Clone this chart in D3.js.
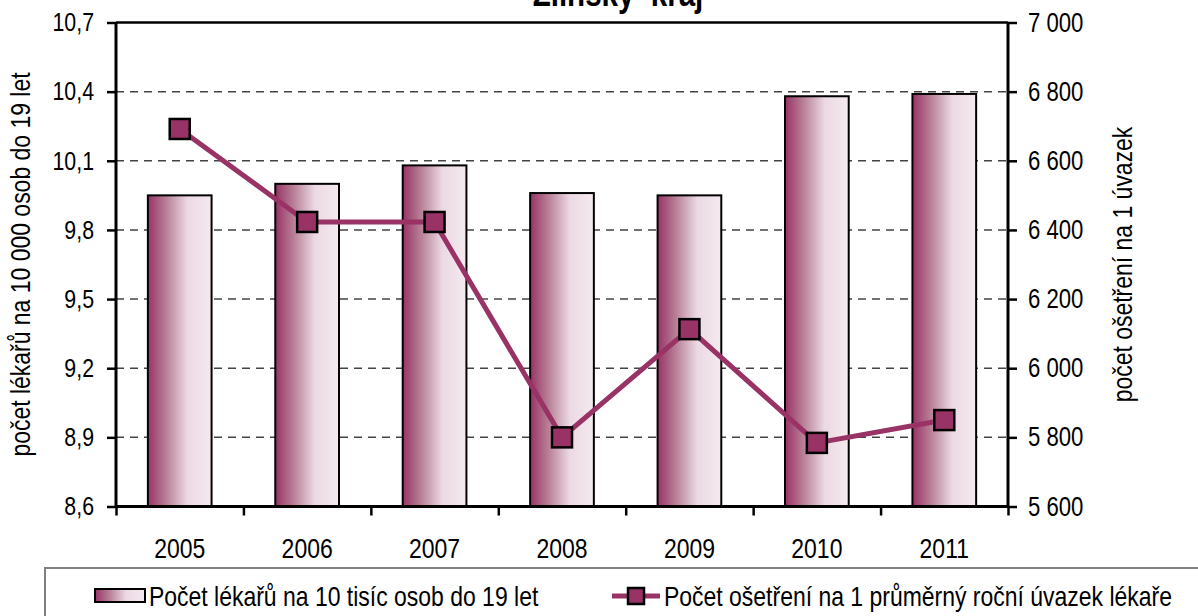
<!DOCTYPE html>
<html>
<head>
<meta charset="utf-8">
<script src="https://cdn.jsdelivr.net/npm/d3@7"></script>
<style>
  body { margin: 0; background: #fff; }
  text { font-family: "Liberation Sans", Arial, sans-serif; }
</style>
</head>
<body>
<script>
    // data
    const years = ["2005", "2006", "2007", "2008", "2009", "2010", "2011"];
    const doctors = [9.95, 10.0, 10.08, 9.96, 9.95, 10.38, 10.39];
    const treatments = [6692, 6423, 6423, 5800, 6113, 5784, 5850];
    const leftTicks = [8.6, 8.9, 9.2, 9.5, 9.8, 10.1, 10.4, 10.7];
    const rightTicks = [5600, 5800, 6000, 6200, 6400, 6600, 6800, 7000];
    const title = "Zlínský  kraj";
    const leftLabel = "počet lékařů na 10 000 osob do 19 let";
    const rightLabel = "počet ošetření na 1 úvazek";
    const legendBar = "Počet lékařů na 10 tisíc osob do 19 let";
    const legendLine = "Počet ošetření na 1 průměrný roční úvazek lékaře";

    const width = 1198, height = 616;
    const pL = 116, pR = 1008, pT = 22.5, pB = 506.5;
    const purple = "#993366";
    const narrow = 0.82; // the reference uses a narrow face

    const svg = d3.select("body").append("svg")
        .attr("width", width)
        .attr("height", height);

    const defs = svg.append("defs");
    const grad = defs.append("linearGradient").attr("id", "barGrad")
        .attr("x1", "0%").attr("x2", "100%").attr("y1", "0%").attr("y2", "0%");
    grad.append("stop").attr("offset", "0%").attr("stop-color", "#993366");
    grad.append("stop").attr("offset", "30%").attr("stop-color", "#b98399");
    grad.append("stop").attr("offset", "62%").attr("stop-color", "#ebd9e3");
    grad.append("stop").attr("offset", "100%").attr("stop-color", "#f5eaf0");

    const x = d3.scaleBand().domain(years).range([pL, pR])
        .paddingInner(0.5).paddingOuter(0.25);
    const xb = d3.scaleLinear().domain([0, years.length]).range([pL, pR]);
    const yL = d3.scaleLinear().domain([8.6, 10.7]).range([pB, pT]);
    const yR = d3.scaleLinear().domain([5600, 7000]).range([pB, pT]);

    const cz = d3.formatLocale({decimal: ",", thousands: "\u00a0", grouping: [3], currency: ["", ""]});
    const fmtL = cz.format(".1f");
    const fmtR = cz.format(",");

    // gridlines
    svg.append("g")
        .selectAll("line")
        .data(leftTicks.slice(1, -1))
        .join("line")
        .attr("x1", pL).attr("x2", pR)
        .attr("y1", d => yL(d)).attr("y2", d => yL(d))
        .attr("stroke", "#444")
        .attr("stroke-width", 1.5)
        .attr("stroke-dasharray", "8,6");

    // bars
    svg.append("g")
        .selectAll("rect")
        .data(doctors)
        .join("rect")
        .attr("x", (d, i) => x(years[i]))
        .attr("y", d => yL(d))
        .attr("width", x.bandwidth())
        .attr("height", d => yL(8.6) - yL(d))
        .attr("fill", "url(#barGrad)")
        .attr("stroke", "#000")
        .attr("stroke-width", 2);

    // top frame
    svg.append("line")
        .attr("x1", pL).attr("x2", pR)
        .attr("y1", pT).attr("y2", pT)
        .attr("stroke", "#000").attr("stroke-width", 2.5);

    // axes
    const axL = svg.append("g")
        .attr("transform", `translate(${pL},0)`)
        .call(d3.axisLeft(yL).tickValues(leftTicks).tickFormat(fmtL).tickSize(9).tickPadding(13));
    const axR = svg.append("g")
        .attr("transform", `translate(${pR},0)`)
        .call(d3.axisRight(yR).tickValues(rightTicks).tickFormat(fmtR).tickSize(9).tickPadding(11));
    const axB = svg.append("g")
        .attr("transform", `translate(0,${pB})`)
        .call(d3.axisBottom(xb).tickValues(d3.range(years.length + 1)).tickFormat("").tickSize(9));
    const axBL = svg.append("g")
        .attr("transform", `translate(0,${pB})`)
        .call(d3.axisBottom(x).tickSize(0).tickPadding(32));
    axBL.select(".domain").remove();

    [axL, axR, axB, axBL].forEach(a => {
        a.selectAll(".domain").attr("stroke", "#000").attr("stroke-width", 3);
        a.selectAll(".tick line").attr("stroke", "#000").attr("stroke-width", 2.5);
        a.selectAll("text").attr("font-size", 27).attr("fill", "#000")
            .style("font-family", "'Liberation Sans', Arial, sans-serif");
    });
    axL.selectAll("text").attr("font-size", 26);
    axBL.selectAll("text").attr("font-size", 28);
    axL.select(".domain").attr("d", `M0,${pB}V${pT}`);
    axR.select(".domain").attr("d", `M0,${pB}V${pT}`);
    axB.select(".domain").attr("d", `M${pL},0H${pR}`);

    // line series
    const line = d3.line()
        .x((d, i) => x(years[i]) + x.bandwidth() / 2)
        .y(d => yR(d));
    svg.append("path")
        .datum(treatments)
        .attr("d", line)
        .attr("fill", "none")
        .attr("stroke", purple)
        .attr("stroke-width", 5);
    const ms = 20;
    svg.append("g")
        .selectAll("rect")
        .data(treatments)
        .join("rect")
        .attr("x", (d, i) => x(years[i]) + x.bandwidth() / 2 - ms / 2)
        .attr("y", d => yR(d) - ms / 2)
        .attr("width", ms).attr("height", ms)
        .attr("fill", purple)
        .attr("stroke", "#000")
        .attr("stroke-width", 2.5);

    // title
    svg.append("text")
        .attr("x", 618).attr("y", 6)
        .attr("text-anchor", "middle")
        .attr("font-size", 36)
        .attr("font-weight", "bold")
        .style("white-space", "pre")
        .text(title);

    // axis titles
    svg.append("text")
        .attr("transform", `translate(30,${(pT + pB) / 2}) rotate(-90)`)
        .attr("text-anchor", "middle")
        .attr("font-size", 28)
        .text(leftLabel);
    svg.append("text")
        .attr("transform", `translate(1132,${(pT + pB) / 2}) rotate(-90)`)
        .attr("text-anchor", "middle")
        .attr("font-size", 28)
        .text(rightLabel);

    // legend
    const lg = svg.append("g");
    lg.append("rect")
        .attr("x", 45).attr("y", 568)
        .attr("width", 1160).attr("height", 60)
        .attr("fill", "#fff")
        .attr("stroke", "#808080")
        .attr("stroke-width", 2);
    lg.append("rect")
        .attr("x", 95).attr("y", 589)
        .attr("width", 50).attr("height", 13)
        .attr("fill", "url(#barGrad)")
        .attr("stroke", "#000").attr("stroke-width", 2);
    lg.append("text")
        .attr("x", 149).attr("y", 606)
        .attr("font-size", 28)
        .text(legendBar);
    lg.append("line")
        .attr("x1", 612).attr("x2", 660)
        .attr("y1", 596).attr("y2", 596)
        .attr("stroke", purple).attr("stroke-width", 5);
    lg.append("rect")
        .attr("x", 628).attr("y", 588)
        .attr("width", 16).attr("height", 16)
        .attr("fill", purple)
        .attr("stroke", "#000").attr("stroke-width", 2.5);
    lg.append("text")
        .attr("x", 664).attr("y", 606)
        .attr("font-size", 28)
        .text(legendLine);

    // squeeze every text to the narrow width of the original face
    svg.selectAll("text").each(function() {
        const w = this.getComputedTextLength();
        if (w > 0) d3.select(this)
            .attr("textLength", w * narrow)
            .attr("lengthAdjust", "spacingAndGlyphs");
    });
</script>
</body>
</html>
